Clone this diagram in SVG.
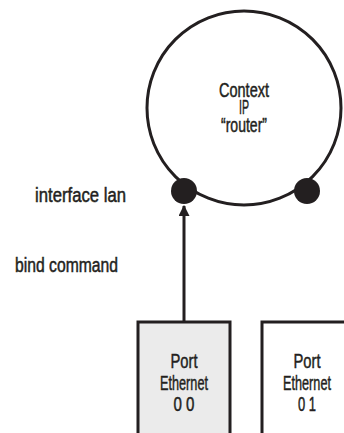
<svg xmlns="http://www.w3.org/2000/svg" width="344" height="433" viewBox="0 0 344 433">
  <style>
    .lbl { font-family: "Liberation Sans", "DejaVu Sans", sans-serif; fill: #231f20; stroke: #231f20; stroke-width: 0.5; }
    .ctr { text-anchor: middle; }
    .edge { fill: none; stroke: #231f20; stroke-width: 3; }
    .port { stroke: #231f20; stroke-width: 3; }
    .dot { fill: #231f20; }
  </style>
  <defs>
    <marker id="arrow" viewBox="0 0 10 10" refX="9" refY="5" markerWidth="11" markerHeight="11" markerUnits="userSpaceOnUse" orient="auto">
      <path d="M0,0 L10,5 L0,10 Z" fill="#231f20"/>
    </marker>
  </defs>

  <rect width="344" height="433" fill="#ffffff"/>

  <!-- routing context -->
  <g id="context-ip">
    <circle class="edge" cx="244" cy="108" r="97"/>
    <text class="lbl ctr" x="244" y="97" font-size="21" textLength="50" lengthAdjust="spacingAndGlyphs">Context</text>
    <text class="lbl ctr" x="244" y="114" font-size="21" textLength="10" lengthAdjust="spacingAndGlyphs">IP</text>
    <text class="lbl ctr" x="244" y="132" font-size="21" textLength="46" lengthAdjust="spacingAndGlyphs">“router”</text>
  </g>

  <!-- interfaces of the context -->
  <g id="interface-lan">
    <circle class="dot" cx="184" cy="191" r="13"/>
  </g>
  <g id="interface-2">
    <circle class="dot" cx="307" cy="191" r="13"/>
  </g>

  <!-- ports -->
  <g id="port-ethernet-00">
    <rect class="port" x="138" y="322" width="92" height="130" fill="#ebebeb"/>
    <text class="lbl ctr" x="184" y="368" font-size="21" textLength="27" lengthAdjust="spacingAndGlyphs">Port</text>
    <text class="lbl ctr" x="184" y="390" font-size="21" textLength="48" lengthAdjust="spacingAndGlyphs">Ethernet</text>
    <text class="lbl ctr" x="184" y="411" font-size="21" textLength="21" lengthAdjust="spacingAndGlyphs">0 0</text>
  </g>
  <g id="port-ethernet-01">
    <rect class="port" x="262" y="322" width="92" height="130" fill="#ffffff"/>
    <text class="lbl ctr" x="307" y="368" font-size="21" textLength="27" lengthAdjust="spacingAndGlyphs">Port</text>
    <text class="lbl ctr" x="307" y="390" font-size="21" textLength="48" lengthAdjust="spacingAndGlyphs">Ethernet</text>
    <text class="lbl ctr" x="307" y="411" font-size="21" textLength="18" lengthAdjust="spacingAndGlyphs">0 1</text>
  </g>

  <!-- side labels -->
  <g id="labels">
    <text class="lbl" x="35" y="202" font-size="20" textLength="91" lengthAdjust="spacingAndGlyphs">interface lan</text>
    <text class="lbl" x="15" y="272" font-size="20" textLength="103" lengthAdjust="spacingAndGlyphs">bind command</text>
  </g>

  <!-- bind connector -->
  <g id="connectors">
    <line class="edge" x1="184" y1="322" x2="184" y2="206" marker-end="url(#arrow)"/>
  </g>
</svg>
